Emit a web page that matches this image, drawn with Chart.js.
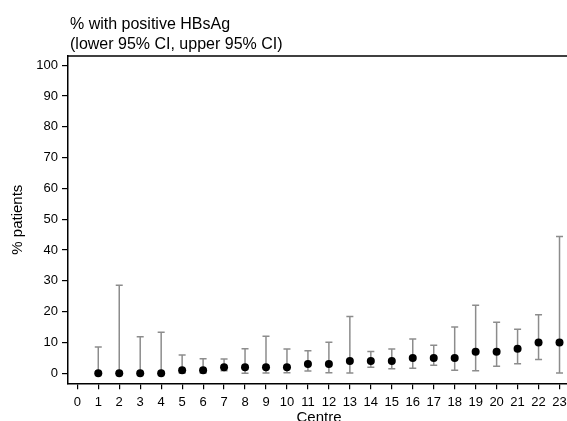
<!DOCTYPE html>
<html><head><meta charset="utf-8">
<style>html,body{margin:0;padding:0;overflow:hidden;background:#fff}#wrap{position:relative;width:570px;height:430px}</style>
<script src="https://cdn.jsdelivr.net/npm/chart.js@4/dist/chart.umd.min.js"></script>
</head><body><div id="wrap"><canvas id="c" width="570" height="430"></canvas></div>
<script>
const centres = [1,2,3,4,5,6,7,8,9,10,11,12,13,14,15,16,17,18,19,20,21,22,23];
const pctPositive = [0,0,0,0,1,1,2,2,2,2,3,3,4,4,4,5,5,5,7,7,8,10,10];
const lower95 = [0,0,0,0,0.1,0.1,0.85,0,0.1,0.2,0.75,0.2,0.1,1.95,1.5,1.6,2.6,1.0,0.85,2.3,3.1,4.5,0.1];
const upper95 = [8.5,28.6,11.9,13.3,5.9,4.7,4.6,8.0,12.0,7.9,7.3,10.1,18.4,7.1,7.9,11.1,9.1,15.0,22.1,16.6,14.3,19.0,44.4];
const xTicks = [0,1,2,3,4,5,6,7,8,9,10,11,12,13,14,15,16,17,18,19,20,21,22,23];
const yTicks = [0,10,20,30,40,50,60,70,80,90,100];
const titleLines = ['% with positive HBsAg', '(lower 95% CI, upper 95% CI)'];
const yTitle = '% patients';
const xTitle = 'Centre';

const FONT = '"Liberation Sans", Arial, Helvetica, sans-serif';

const pointData = centres.map((c, i) => ({x: c, y: pctPositive[i]}));
const ciData = [];
centres.forEach((c, i) => {
  ciData.push({x: c, y: lower95[i]});
  ciData.push({x: c, y: upper95[i]});
  ciData.push({x: c, y: null});
});

const titlePlugin = {
  id: 'stataTitle',
  afterDraw(chart) {
    const ctx = chart.ctx;
    ctx.save();
    ctx.fillStyle = '#000';
    ctx.font = '16px ' + FONT;
    ctx.textAlign = 'left';
    ctx.textBaseline = 'alphabetic';
    ctx.fillText(titleLines[0], 70, 28.5);
    ctx.fillText(titleLines[1], 70, 48.5);
    const a = chart.chartArea;
    ctx.strokeStyle = '#000';
    ctx.lineWidth = 1.5;
    ctx.beginPath();
    ctx.moveTo(a.left, a.top);
    ctx.lineTo(a.right, a.top);
    ctx.stroke();
    ctx.restore();
  }
};

new Chart(document.getElementById('c'), {
  type: 'scatter',
  data: {
    datasets: [
      {
        label: 'pct',
        data: pointData,
        order: 0,
        pointRadius: 4,
        pointBorderWidth: 0,
        pointBackgroundColor: '#000',
        pointBorderColor: '#000',
        showLine: false
      },
      {
        label: 'ci',
        data: ciData,
        order: 1,
        showLine: true,
        spanGaps: false,
        borderColor: '#8c8c8c',
        borderWidth: 1.5,
        pointStyle: 'line',
        pointRadius: 3.5,
        pointBorderWidth: 1.5,
        pointBorderColor: '#8c8c8c',
        pointBackgroundColor: '#8c8c8c'
      }
    ]
  },
  options: {
    responsive: false,
    animation: false,
    events: [],
    layout: {autoPadding: false, padding: {top: 56, left: 0, right: 0, bottom: 0}},
    plugins: {legend: {display: false}, tooltip: {enabled: false}, title: {display: false}},
    scales: {
      x: {
        type: 'linear',
        min: -0.444,
        max: 23.5,
        afterBuildTicks: s => { s.ticks = xTicks.map(v => ({value: v})); },
        afterFit: s => { s.height = 430 - 383.3; s.paddingLeft = 0; s.paddingRight = 0; },
        grid: {drawOnChartArea: false, drawTicks: true, tickLength: 6, tickColor: '#000', lineWidth: 1.2},
        border: {color: '#000', width: 1.5},
        ticks: {color: '#000', font: {family: FONT, size: 13}, padding: 5.5, maxRotation: 0, autoSkip: false},
        title: {display: true, text: xTitle, color: '#000', font: {family: FONT, size: 15}, padding: {top: 0, bottom: 3}}
      },
      y: {
        type: 'linear',
        min: -3.25,
        max: 103,
        afterBuildTicks: s => { s.ticks = yTicks.map(v => ({value: v})); },
        afterFit: s => { s.width = 68; s.paddingTop = 0; s.paddingBottom = 0; },
        grid: {drawOnChartArea: false, drawTicks: true, tickLength: 6, tickColor: '#000', lineWidth: 1.2},
        border: {color: '#000', width: 1.5},
        ticks: {color: '#000', font: {family: FONT, size: 13}, padding: 4},
        title: {display: true, text: yTitle, color: '#000', font: {family: FONT, size: 15}, padding: {top: 9, bottom: 0}}
      }
    }
  },
  plugins: [titlePlugin]
});
</script>
</body></html>
